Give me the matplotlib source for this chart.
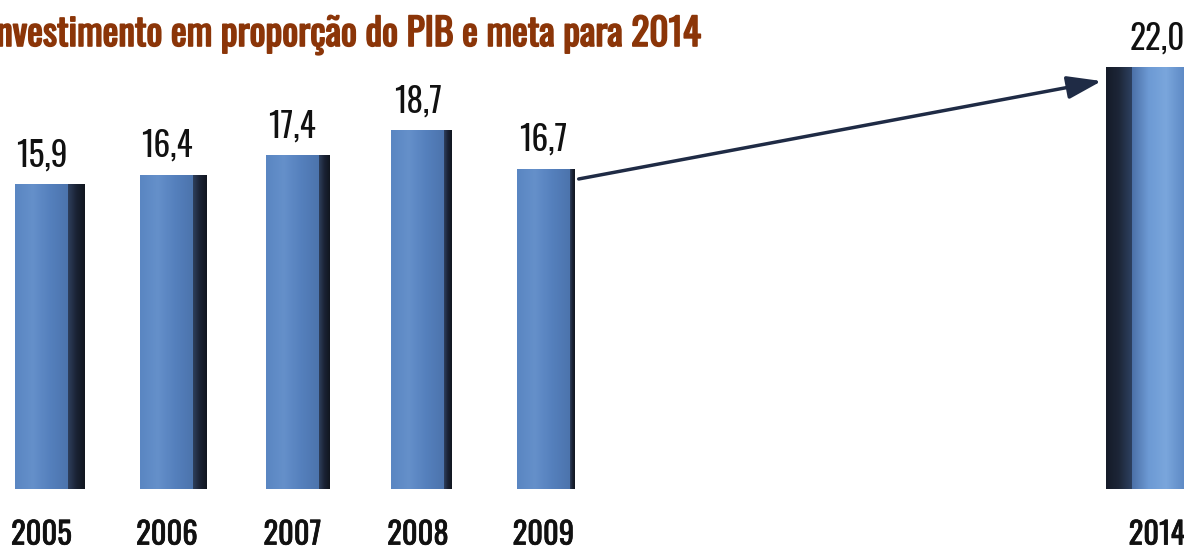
import numpy as np
import matplotlib.pyplot as plt
import matplotlib.patheffects as pe
from matplotlib.colors import LinearSegmentedColormap
from matplotlib.patches import FancyArrowPatch

plt.rcParams['font.family'] = ['Oswald', 'Roboto Condensed', 'Archivo Narrow', 'DejaVu Sans']

# Data
years = ['2005', '2006', '2007', '2008', '2009', '2014']
values = [15.9, 16.4, 17.4, 18.7, 16.7, 22.0]
title = 'Investimento em proporção do PIB e meta para 2014'

front_cmap = LinearSegmentedColormap.from_list('front', ['#5a86c2', '#6590ca', '#5580bd', '#4c74ad'])
side_cmap = LinearSegmentedColormap.from_list('side', ['#2e3f5c', '#1a2234', '#11161f'])
front_cmap_2014 = LinearSegmentedColormap.from_list('front14', ['#4a6fa6', '#6d9ad4', '#7aa6dc', '#5f8bc6'])
side_cmap_2014 = LinearSegmentedColormap.from_list('side14', ['#151b28', '#1d2638', '#2d4060'])


def gradient_fill(ax, patch, cmap):
    # paint a horizontal gradient clipped to the bar
    x0, y0 = patch.get_x(), patch.get_y()
    w, h = patch.get_width(), patch.get_height()
    grad = np.linspace(0, 1, 64).reshape(1, -1)
    im = ax.imshow(grad, cmap=cmap, aspect='auto', extent=(x0, x0 + w, y0, y0 + h),
                   origin='lower', zorder=patch.get_zorder() + 0.1)
    im.set_clip_path(patch)


fig = plt.figure(figsize=(11.84, 5.54), dpi=100)
ax = fig.add_axes([0, 65 / 554, 1, 489 / 554])
ax.set_xlim(-0.4195, 9.015)
ax.set_ylim(0, 25.5)

xpos = [int(y) - 2005 for y in years]
front_w = 0.42
front_centers = []

for i, (x, v) in enumerate(zip(xpos, values)):
    if x < 9:
        front_left = x - 0.3
        side_left = front_left + front_w
        side_w = 0.135 - 0.024 * i
        fc, sc = front_cmap, side_cmap
    else:
        # target bar is seen from the other side
        side_left = x - 0.61
        side_w = 0.2
        front_left = side_left + side_w
        fc, sc = front_cmap_2014, side_cmap_2014
    front = ax.bar(front_left, v, width=front_w, align='edge', color='#5a86c2', zorder=2)[0]
    side = ax.bar(side_left, v, width=side_w, align='edge', color='#1a2234', zorder=2)[0]
    gradient_fill(ax, front, fc)
    gradient_fill(ax, side, sc)
    cx = front_left + front_w / 2
    front_centers.append(cx)
    ax.annotate(f'{v:.1f}'.replace('.', ','), (cx, v), xytext=(0, 13), textcoords='offset points',
                ha='center', va='baseline', fontsize=24, color='#111111')

# arrow from 2009 to the 2014 target
arrow = FancyArrowPatch((xpos[4] + 0.17, values[4] - 0.56), (xpos[5] - 0.62, values[5] - 0.7),
                        arrowstyle='-|>,head_length=1.5,head_width=0.5', mutation_scale=14,
                        color='#1f2b45', lw=2.5, zorder=3)
ax.add_patch(arrow)

ax.set_xticks(front_centers, years)
ax.tick_params(axis='x', length=0, pad=22, labelsize=22, labelcolor='#111111')
ax.set_yticks([])
for s in ax.spines.values():
    s.set_visible(False)
for lbl in ax.get_xticklabels():
    lbl.set_path_effects([pe.withStroke(linewidth=0.5, foreground='#111111')])

fig.text(-0.011, 1 - 46 / 554, title, color='#8b3508', fontsize=27, fontweight='bold',
         ha='left', va='baseline',
         path_effects=[pe.withStroke(linewidth=1.2, foreground='#8b3508')])

fig.savefig('out.png', dpi=100)
